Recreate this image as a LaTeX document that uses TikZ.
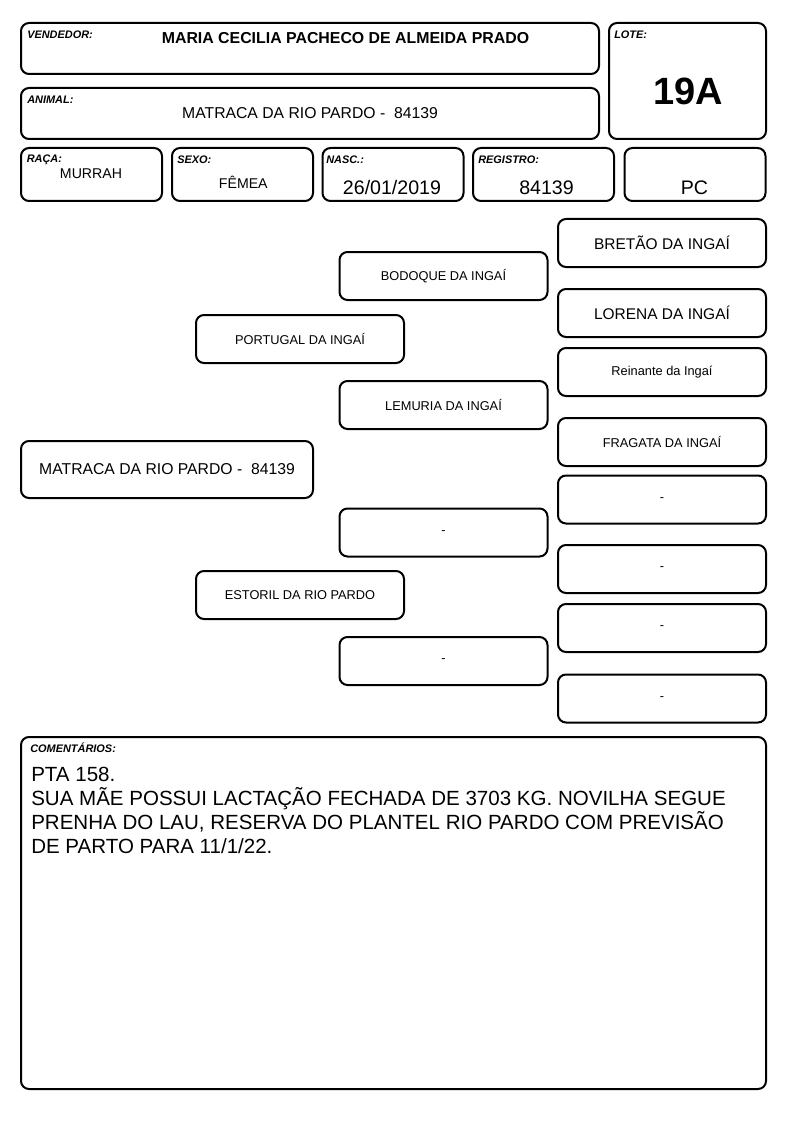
\documentclass[tikz,border=0pt]{standalone}
\usepackage{fontspec}
\setmainfont{Liberation Sans}
\usetikzlibrary{positioning}

\begin{document}
\begin{tikzpicture}[%
    x = 0.75pt,
    y = -0.75pt,
    box/.style = {%
      draw,
      line width = 1.5pt,
      rounded corners = 6pt,
      inner sep = 0pt },
    field/.style = {box, minimum width = 105.75pt, minimum height = 39.75pt},
    parent/.style = {%
      box,
      minimum width = 156pt,
      minimum height = 36pt,
      font = \fontsize{9.6}{11}\selectfont },
    bigparent/.style = {parent, font = \fontsize{11.6}{13}\selectfont},
    tag/.style = {%
      anchor = base west,
      inner sep = 0pt,
      font = \fontsize{8.2}{10}\selectfont\bfseries\itshape },
    value/.style = {anchor = base, inner sep = 0pt, font = \fontsize{14.7}{17}\selectfont}
  ]

\useasboundingbox (0,0) rectangle (794,1123);

% header
\node[box, minimum width=433.5pt, minimum height=38.25pt] (vend) at (310,48.5) {};
\node[tag] at (27,39) {VENDEDOR:};
\node[anchor=base, inner sep=0pt, font=\fontsize{11.9}{14}\selectfont\bfseries] (vendname) at (345.5,43.5) {MARIA CECILIA PACHECO DE ALMEIDA PRADO};

\node[box, minimum width=117.75pt, minimum height=87pt] (lote) at (687.5,81) {};
\node[tag] at (614,39) {LOTE:};
\node[anchor=base, inner sep=0pt, font=\fontsize{28.5}{32}\selectfont\bfseries] (lotenum) at (688,105) {19A};

\node[box, minimum width=433.5pt, minimum height=38.25pt] (anim) at (310,113.5) {};
\node[tag] at (27,104) {ANIMAL:};
\node[anchor=base, inner sep=0pt, font=\fontsize{11.8}{14}\selectfont] (animname) at (310,119) {MATRACA DA RIO PARDO -~~84139};

% fields
\node[field] (raca) at (91.5,174.5) {};
\node[field] (sexo) at (242.5,174.5) {};
\node[field] (nasc) at (393,174.5) {};
\node[field] (reg) at (543.5,174.5) {};
\node[field] (pc) at (695,174.5) {};

\node[tag] at (26.5,163) {RAÇA:};
\node[tag] at (177,164) {SEXO:};
\node[tag] at (326,164) {NASC.:};
\node[tag] at (478,164) {REGISTRO:};

\node[value, font=\fontsize{10.6}{12}\selectfont] at (91,178.5) {MURRAH};
\node[value, font=\fontsize{10.6}{12}\selectfont] at (243.3,189) {FÊMEA};
\node[value] at (392,195) {26/01/2019};
\node[value] at (546.5,195) {84139};
\node[value] at (694.5,195) {PC};

% pedigree
\node[box, minimum width=219pt, minimum height=42.75pt, font=\fontsize{11.8}{14}\selectfont] (A) at (167,469.5) {MATRACA DA RIO PARDO -~~84139};

\node[parent] (P) at (300,339) {PORTUGAL DA INGAÍ};
\node[parent] (M) at (300,595) {ESTORIL DA RIO PARDO};

\node[parent] (PP) at (443.5,276) {BODOQUE DA INGAÍ};
\node[parent] (PM) at (443.5,405) {LEMURIA DA INGAÍ};
\node[parent] (MP) at (443.5,532.5) {-};
\node[parent] (MM) at (443.5,661) {-};

\node[bigparent] (PPP) at (662,243) {BRETÃO DA INGAÍ};
\node[bigparent] (PPM) at (662,313) {LORENA DA INGAÍ};
\node[parent] (PMP) at (662,372) {Reinante da Ingaí};
\node[parent] (PMM) at (662,442) {FRAGATA DA INGAÍ};
\node[parent] (MPP) at (662,499.5) {-};
\node[parent] (MPM) at (662,569) {-};
\node[parent] (MMP) at (662,628) {-};
\node[parent] (MMM) at (662,698.5) {-};

% comments
\node[box, minimum width=558.75pt, minimum height=264pt] (coment) at (393.5,913) {};
\node[tag] at (30,752) {COMENTÁRIOS:};
\node[anchor=north west, align=left, inner sep=0pt, font=\fontsize{15.4}{18}\selectfont] (texto) at (31,766.5)
  {PTA 158.\\
   SUA MÃE POSSUI LACTAÇÃO FECHADA DE 3703 KG. NOVILHA SEGUE\\
   PRENHA DO LAU, RESERVA DO PLANTEL RIO PARDO COM PREVISÃO\\
   DE PARTO PARA 11/1/22.};

\end{tikzpicture}
\end{document}
